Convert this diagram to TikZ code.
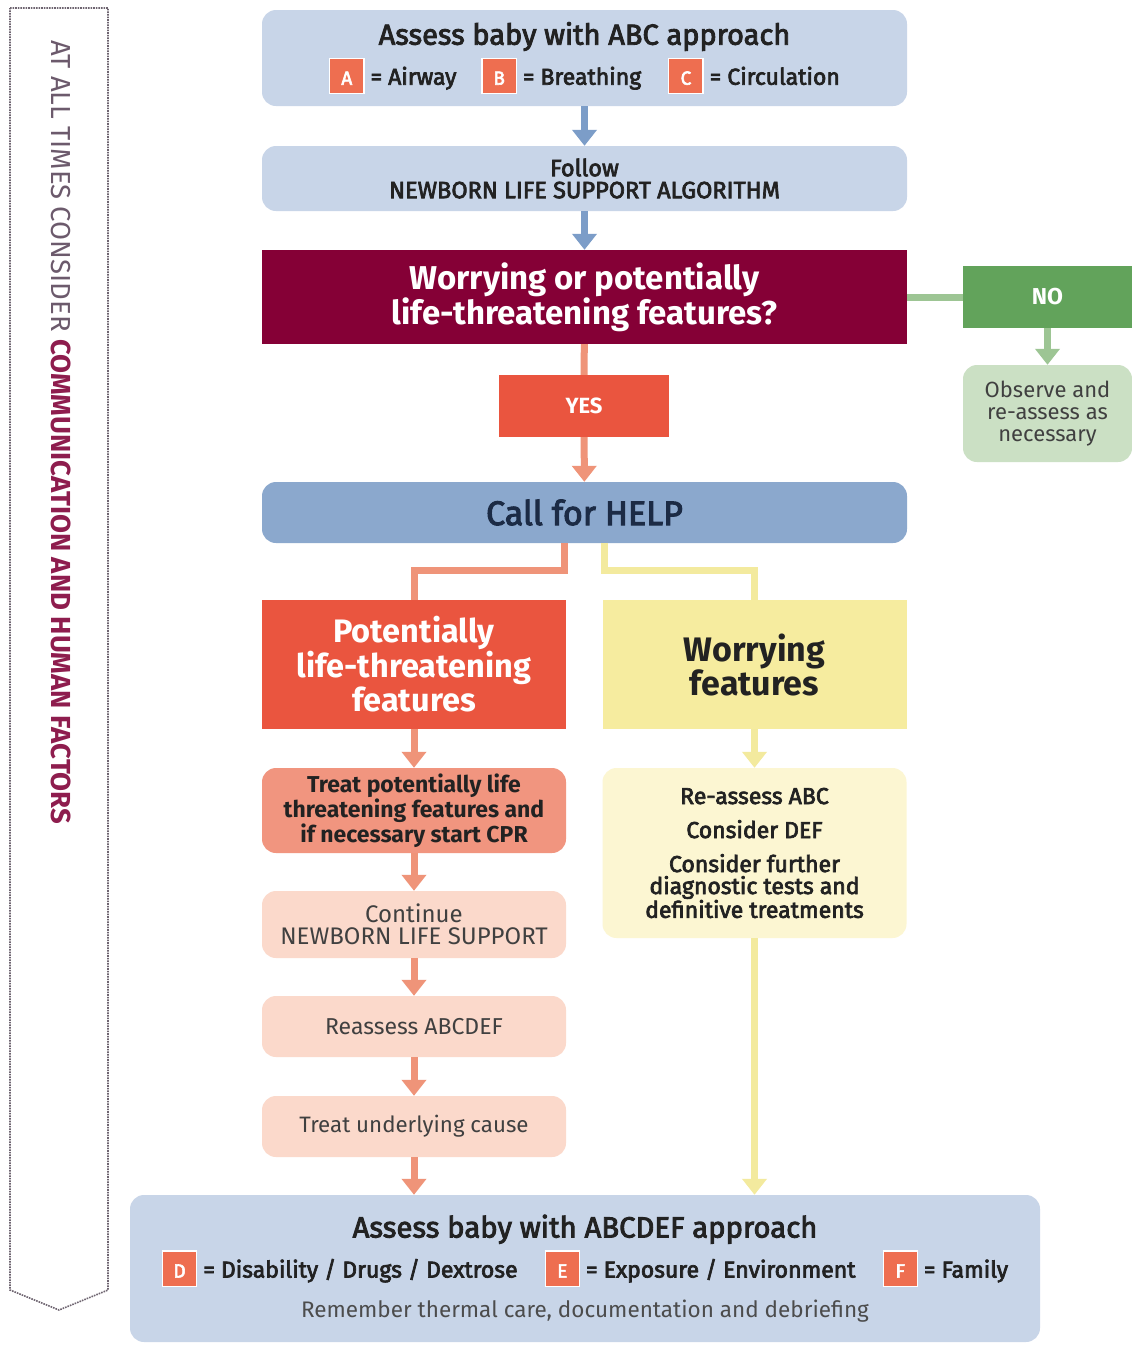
\documentclass[tikz,border=0pt]{standalone}
\usepackage{fontspec}
\setmainfont{Fira Sans}
\newfontfamily\medfont{Fira Sans}[FakeBold=3]
\usepackage{xcolor}
\usepackage{tikz}
\usetikzlibrary{positioning,calc,arrows.meta}

\definecolor{paleblue}{HTML}{C8D5E8}
\definecolor{arrowblue}{HTML}{7C9DC8}
\definecolor{wine}{HTML}{850036}
\definecolor{greenbox}{HTML}{62A35B}
\definecolor{greenline}{HTML}{9DC594}
\definecolor{palegreen}{HTML}{CBE0C4}
\definecolor{flame}{HTML}{EA553F}
\definecolor{salmonline}{HTML}{EF9479}
\definecolor{salmonbox}{HTML}{F1957F}
\definecolor{peach}{HTML}{FBD9CB}
\definecolor{helpblue}{HTML}{8BA8CD}
\definecolor{lemon}{HTML}{F6EC9F}
\definecolor{yellowline}{HTML}{F3EA9E}
\definecolor{cream}{HTML}{FCF6D2}
\definecolor{keyorange}{HTML}{EE6E50}
\definecolor{inkdark}{HTML}{222222}
\definecolor{navy}{HTML}{1C2B45}
\definecolor{bandgrey}{HTML}{6C5A6C}
\definecolor{bandred}{HTML}{8E1D4E}
\definecolor{dotgrey}{HTML}{6E6470}

\newcommand\keybox[1]{{\setlength\fboxsep{0pt}\setlength\fboxrule{1.2pt}%
  \fcolorbox{white}{keyorange}{\makebox[33pt]{\rule[-8pt]{0pt}{34pt}\textcolor{white}{\fontsize{19}{19}\selectfont #1}}}}}

\begin{document}
\begin{tikzpicture}[x=1pt, y=-1pt,
    every node/.style={inner sep=0pt, align=center, text=inkdark},
    box/.style={rounded corners=14pt, minimum width=645pt},
    sidebox/.style={minimum width=304pt},
    flow/.style={line width=7pt, -{Triangle[width=24pt,length=16pt]}},
    link/.style={line width=7pt}]
    
    \fill[white] (0,0) rectangle (1132,1345);
    \useasboundingbox (0,0) rectangle (1132,1345);
    
    \draw[dotgrey, densely dotted, line width=1.6pt] (10,8) -- (108,8) -- (108,1290) -- (59,1310) -- (10,1290) -- cycle;
    \node[rotate=-90, anchor=west, text=bandgrey, font=\fontsize{27.5}{27.5}\selectfont] (always) at (61,40)
        {AT ALL TIMES CONSIDER \textcolor{bandred}{\bfseries COMMUNICATION AND HUMAN FACTORS}};
    
    \node[box, fill=paleblue, minimum height=96pt, font=\medfont\fontsize{23}{40}\selectfont] (abc) at (584.5,58)
        {{\fontsize{29}{40}\selectfont Assess baby with ABC approach}\\
         \keybox{A} = Airway\hspace{25pt}\keybox{B} = Breathing\hspace{27pt}\keybox{C} = Circulation};
    \node[box, fill=paleblue, minimum height=65pt, font=\medfont\fontsize{23.5}{22}\selectfont] (follow) at (584.5,178.5)
        {Follow\\NEWBORN LIFE SUPPORT ALGORITHM};
    \node[minimum width=645pt, minimum height=94pt, fill=wine, text=white, font=\bfseries\fontsize{33}{35}\selectfont] (worry) at (584.5,297)
        {Worrying or potentially\\life-threatening features?};
    \node[minimum width=169pt, minimum height=62pt, fill=greenbox, text=white, font=\bfseries\fontsize{23}{23}\selectfont] (no) at (1047.5,297) {NO};
    \node[rounded corners=14pt, minimum width=169pt, minimum height=97pt, fill=palegreen, text=black!75, font=\fontsize{22}{22}\selectfont] (observe) at (1047.5,413.5)
        {Observe and\\re-assess as\\necessary};
    \node[minimum width=170pt, minimum height=62pt, fill=flame, text=white, font=\bfseries\fontsize{22}{22}\selectfont] (yes) at (584,406) {YES};
    \node[box, fill=helpblue, minimum height=61pt, text=navy, font=\medfont\fontsize{34}{34}\selectfont] (help) at (584.5,512.5) {Call for HELP};
    
    \node[sidebox, minimum height=129pt, fill=flame, text=white, font=\bfseries\fontsize{32.5}{34.5}\selectfont] (pot) at (414,664.5)
        {Potentially\\life-threatening\\features};
    \node[sidebox, minimum height=129pt, fill=lemon, font=\bfseries\fontsize{34}{34}\selectfont] (wor) at (754.5,664.5)
        {Worrying\\features};
    
    \node[sidebox, rounded corners=14pt, minimum height=85pt, fill=salmonbox, font=\bfseries\fontsize{23}{22.5}\selectfont] (treat) at (414,810.5)
        {Treat potentially life\\threatening features and\\if necessary start CPR};
    \node[sidebox, rounded corners=14pt, minimum height=67pt, fill=peach, text=black!75, font=\fontsize{24}{22}\selectfont] (cont) at (414,924.5)
        {Continue\\NEWBORN LIFE SUPPORT};
    \node[sidebox, rounded corners=14pt, minimum height=61pt, fill=peach, text=black!75, font=\fontsize{23}{22}\selectfont] (reass) at (414,1026.5)
        {Reassess ABCDEF};
    \node[sidebox, rounded corners=14pt, minimum height=61pt, fill=peach, text=black!75, font=\fontsize{22.3}{22}\selectfont] (under) at (414,1126.5)
        {Treat underlying cause};
    \node[sidebox, rounded corners=14pt, minimum height=170pt, fill=cream, font=\medfont\fontsize{23}{22}\selectfont] (detail) at (754.5,853)
        {Re-assess ABC\\[12pt]Consider DEF\\[12pt]Consider further\\diagnostic tests and\\definitive treatments};
    
    \node[rounded corners=14pt, minimum width=910pt, minimum height=147pt, fill=paleblue, font=\medfont\fontsize{23}{40}\selectfont] (final) at (585,1268.5)
        {{\fontsize{29.3}{40}\selectfont Assess baby with ABCDEF approach}\\
         \keybox{D} = Disability / Drugs / Dextrose\hspace{27pt}\keybox{E} = Exposure / Environment\hspace{27pt}\keybox{F} =\ Family\\
         {\normalfont\fontsize{22.5}{40}\selectfont\color{black!70}Remember thermal care, documentation and debriefing}};
    
    \draw[flow, arrowblue] (abc) -- (follow);
    \draw[flow, arrowblue] (follow) -- (worry);
    \draw[link, greenline] (worry) -- (no);
    \draw[flow, greenline] (no) -- (observe);
    \draw[link, salmonline] (worry) -- (yes);
    \draw[flow, salmonline] (yes) -- (help);
    \draw[link, salmonline] ([xshift=-20pt]help.south) -- ++(0,27) -| (pot.north);
    \draw[link, yellowline] ([xshift=20pt]help.south) -- ++(0,27) -| (wor.north);
    \draw[flow, salmonline] (pot) -- (treat);
    \draw[flow, salmonline] (treat) -- (cont);
    \draw[flow, salmonline] (cont) -- (reass);
    \draw[flow, salmonline] (reass) -- (under);
    \draw[flow, salmonline] (under.south) -- (under.south |- final.north);
    \draw[flow, yellowline] (wor) -- (detail);
    \draw[flow, yellowline] (detail.south) -- (detail.south |- final.north);
\end{tikzpicture}
\end{document}
